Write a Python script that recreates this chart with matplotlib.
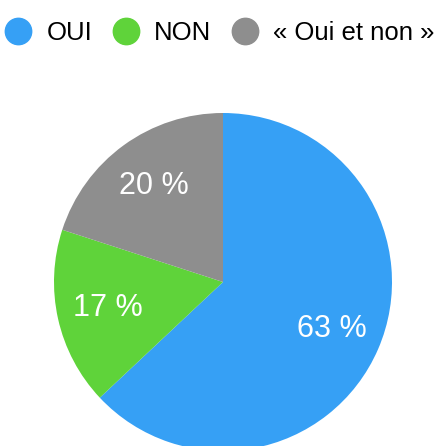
import matplotlib
matplotlib.use('Agg')
import matplotlib.pyplot as plt
from matplotlib.lines import Line2D

plt.rcParams['font.family'] = ['Liberation Sans', 'DejaVu Sans']

# --- data ---
labels = ["OUI", "NON", "« Oui et non »"]
values = [63, 17, 20]
colors = ["#36a0f5", "#5fd33a", "#8e8e8e"]

fig = plt.figure(figsize=(4.40, 4.46), dpi=100)

# pie axes: centre at (223, 282) px from top-left, radius 169 px
W, H = 440, 446
cx, cy, r = 223, 282, 169
ax = fig.add_axes([(cx - r) / W, (H - cy - r) / H, 2 * r / W, 2 * r / H])
wedges, texts, autotexts = ax.pie(
    values, colors=colors, startangle=90, counterclock=False,
    autopct=lambda p: f"{p:.0f} %", pctdistance=0.7,
    textprops=dict(color="white", fontsize=22),
    wedgeprops=dict(linewidth=0),
)
ax.set_xlim(-1, 1)
ax.set_ylim(-1, 1)
ax.axis('off')

# --- legend ---
handles = [Line2D([], [], marker='o', linestyle='none', markersize=19,
                  markerfacecolor=c, markeredgecolor=c) for c in colors]
fig.legend(handles, labels, loc='center', bbox_to_anchor=(0.5, 1 - 33 / H),
           ncol=3, frameon=False, fontsize=18.5, handlelength=1.0,
           handletextpad=0.6, columnspacing=0.8, borderaxespad=0)

fig.savefig("out.png", dpi=100)
